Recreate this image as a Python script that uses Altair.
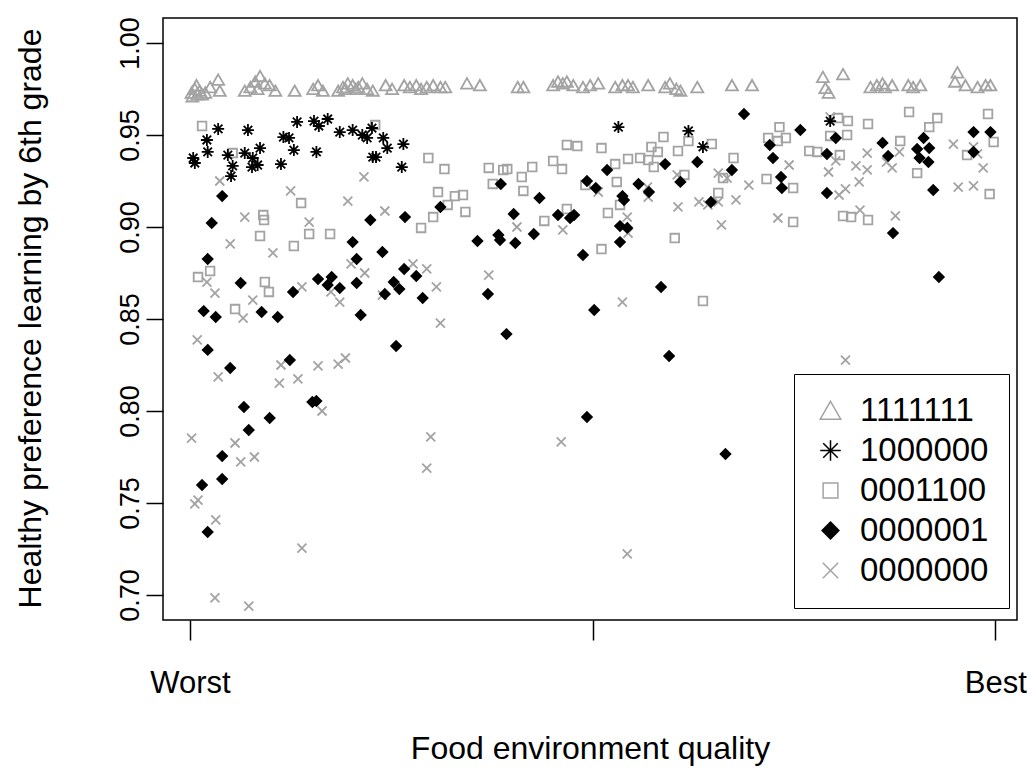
import altair as alt
import pandas as pd

# series labels (legend order)
patterns = ["1111111", "1000000", "0001100", "0000001", "0000000"]

# (food environment quality 0=Worst..100=Best, healthy preference learning)
tri_pts = [
    (0.2, 0.973), (0.3, 0.971), (0.6, 0.975), (0.8, 0.977), (0.9, 0.972), (1.2, 0.974), (1.5, 0.972),
    (1.9, 0.973), (2.5, 0.976), (3.5, 0.980), (3.7, 0.974), (6.8, 0.974), (7.5, 0.976), (8.1, 0.979),
    (8.4, 0.975), (8.7, 0.982), (9.3, 0.978), (9.9, 0.977), (10.6, 0.974), (13.0, 0.974), (15.3, 0.975),
    (15.9, 0.977), (16.5, 0.974), (18.4, 0.974), (19.0, 0.976), (19.3, 0.975), (19.6, 0.978), (20.2, 0.977),
    (20.6, 0.975), (20.9, 0.976), (21.4, 0.978), (22.0, 0.975), (22.7, 0.974), (24.3, 0.977), (25.1, 0.975),
    (26.6, 0.977), (27.3, 0.976), (28.1, 0.977), (28.7, 0.975), (29.4, 0.976), (30.2, 0.977), (31.1, 0.976),
    (31.7, 0.976), (34.4, 0.978), (36.0, 0.977), (40.7, 0.976), (41.4, 0.976), (45.1, 0.977), (45.7, 0.979),
    (46.3, 0.978), (46.8, 0.979), (47.6, 0.977), (48.8, 0.976), (49.7, 0.977), (50.7, 0.978), (52.8, 0.976),
    (53.7, 0.977), (54.4, 0.977), (55.0, 0.976), (56.9, 0.977), (59.0, 0.976), (59.6, 0.978), (60.4, 0.975),
    (60.9, 0.974), (63.0, 0.976), (67.3, 0.977), (69.8, 0.977), (78.6, 0.9815), (78.9, 0.9755), (79.3, 0.973),
    (81.1, 0.983), (84.5, 0.976), (85.3, 0.977), (86.0, 0.978), (86.3, 0.976), (87.2, 0.977), (89.2, 0.977),
    (89.8, 0.976), (90.7, 0.977), (95.0, 0.979), (95.3, 0.984), (96.3, 0.977), (97.8, 0.976), (98.8, 0.977),
    (99.4, 0.977),
]

star_pts = [
    (0.4, 0.9375), (0.6, 0.9348), (2.1, 0.9473), (2.2, 0.9408), (3.5, 0.9533), (4.7, 0.9391), (5.3, 0.9332),
    (5.1, 0.9277), (6.8, 0.9402), (7.8, 0.9375), (8.4, 0.9337), (7.7, 0.9326), (7.2, 0.9527), (8.7, 0.9429),
    (11.3, 0.9342), (11.6, 0.9489), (12.3, 0.9484), (12.9, 0.9418), (13.3, 0.9571), (15.4, 0.9576),
    (16.0, 0.9549), (17.1, 0.9587), (15.7, 0.9408), (18.6, 0.9516), (20.2, 0.9527), (21.4, 0.9500),
    (22.0, 0.9484), (22.6, 0.9538), (22.7, 0.9380), (24.0, 0.9484), (24.5, 0.9429), (23.1, 0.9380),
    (26.5, 0.9451), (26.3, 0.9326), (53.2, 0.9543), (61.9, 0.9522), (63.7, 0.9435), (79.5, 0.9576),
]

sq_pts = [
    (1.5, 0.9549), (5.3, 0.9402), (13.8, 0.9130), (9.1, 0.9065), (9.2, 0.9038), (8.7, 0.8951), (14.8, 0.8962),
    (17.4, 0.8962), (12.9, 0.8897), (2.5, 0.8761), (1.0, 0.8728), (9.3, 0.8701), (9.8, 0.8647), (5.6, 0.8554),
    (23.0, 0.9554), (29.6, 0.9375), (31.6, 0.9315), (30.8, 0.9190), (32.9, 0.9168), (33.9, 0.9174),
    (32.0, 0.9120), (34.2, 0.9082), (30.2, 0.9054), (28.7, 0.8995), (37.1, 0.9321), (38.9, 0.9310),
    (39.4, 0.9315), (37.6, 0.9234), (41.2, 0.9272), (41.4, 0.9196), (42.5, 0.9326), (45.1, 0.9359),
    (46.2, 0.9315), (46.8, 0.9446), (48.1, 0.9440), (46.8, 0.9098), (44.0, 0.9033), (51.1, 0.9429),
    (58.8, 0.9489), (61.9, 0.9467), (64.8, 0.9451), (57.3, 0.9435), (58.1, 0.9408), (60.6, 0.9413),
    (52.8, 0.9342), (54.4, 0.9370), (55.9, 0.9375), (56.9, 0.9364), (57.6, 0.9326), (67.5, 0.9375),
    (71.8, 0.9484), (73.0, 0.9467), (73.2, 0.9543), (61.4, 0.9283), (53.0, 0.9245), (65.6, 0.9185),
    (49.1, 0.9228), (53.4, 0.9120), (51.9, 0.9076), (71.6, 0.9261), (60.2, 0.8940), (51.1, 0.8880),
    (63.7, 0.8598), (66.2, 0.9266), (89.3, 0.9625), (92.8, 0.9592), (99.1, 0.9614), (91.8, 0.9543),
    (80.5, 0.9592), (81.7, 0.9576), (84.2, 0.9560), (81.6, 0.9500), (79.5, 0.9495), (74.0, 0.9484),
    (88.2, 0.9467), (76.9, 0.9413), (77.9, 0.9408), (80.7, 0.9391), (96.5, 0.9391), (99.8, 0.9462),
    (90.3, 0.9293), (74.9, 0.9212), (99.3, 0.9179), (74.9, 0.9027), (81.1, 0.9060), (82.1, 0.9054),
    (84.2, 0.9038),
]

dia_pts = [
    (4.0, 0.9168), (2.7, 0.9022), (22.4, 0.9038), (20.2, 0.8918), (2.2, 0.8826), (20.7, 0.8826), (6.3, 0.8696),
    (12.8, 0.8647), (15.9, 0.8717), (17.6, 0.8728), (17.1, 0.8685), (18.6, 0.8668), (20.7, 0.8696),
    (1.7, 0.8543), (3.2, 0.8511), (8.9, 0.8538), (10.9, 0.8511), (21.2, 0.8522), (2.2, 0.8332), (12.4, 0.8277),
    (5.0, 0.8234), (6.7, 0.8022), (9.9, 0.7962), (7.3, 0.7897), (15.2, 0.8049), (15.7, 0.8054), (4.0, 0.7755),
    (4.0, 0.7630), (1.5, 0.7598), (2.2, 0.7342), (38.6, 0.9234), (43.4, 0.9158), (31.1, 0.9109), (40.2, 0.9071),
    (45.7, 0.9065), (47.2, 0.9049), (47.7, 0.9065), (26.7, 0.9054), (35.7, 0.8924), (38.3, 0.8957),
    (38.5, 0.8929), (40.4, 0.8913), (42.7, 0.8962), (23.9, 0.8864), (26.6, 0.8772), (28.1, 0.8734),
    (25.3, 0.8701), (26.0, 0.8663), (24.2, 0.8636), (28.9, 0.8614), (37.0, 0.8636), (39.3, 0.8418),
    (25.6, 0.8353), (48.8, 0.8848), (49.3, 0.9250), (50.4, 0.9212), (51.8, 0.9310), (55.7, 0.9234),
    (57.0, 0.9190), (53.7, 0.9168), (53.9, 0.9147), (59.0, 0.9342), (60.9, 0.9245), (63.0, 0.9353),
    (67.3, 0.9310), (64.7, 0.9136), (53.4, 0.9005), (54.3, 0.8995), (53.4, 0.8918), (58.5, 0.8674),
    (50.2, 0.8549), (59.5, 0.8299), (68.8, 0.9614), (72.0, 0.9446), (72.4, 0.9375), (73.4, 0.9272),
    (73.5, 0.9212), (75.8, 0.9527), (80.2, 0.9484), (79.1, 0.9397), (86.0, 0.9457), (86.7, 0.9386),
    (91.1, 0.9484), (91.8, 0.9429), (90.3, 0.9424), (90.6, 0.9375), (91.7, 0.9353), (97.3, 0.9516),
    (99.4, 0.9516), (97.3, 0.9408), (79.1, 0.9185), (92.3, 0.9201), (87.3, 0.8967), (93.0, 0.8728),
    (49.3, 0.7967), (66.5, 0.7766),
]

cross_pts = [
    (3.7, 0.9250), (12.5, 0.9196), (19.6, 0.9141), (21.6, 0.9272), (6.8, 0.9054), (14.8, 0.9027), (5.0, 0.8908),
    (10.3, 0.8859), (20.0, 0.8799), (21.7, 0.8750), (2.1, 0.8701), (3.1, 0.8641), (13.9, 0.8674), (17.5, 0.8647),
    (18.6, 0.8592), (7.8, 0.8603), (6.6, 0.8505), (0.9, 0.8386), (18.4, 0.8255), (19.3, 0.8288), (3.5, 0.8185),
    (11.3, 0.8250), (11.1, 0.8152), (13.4, 0.8174), (15.9, 0.8245), (16.4, 0.8000), (0.2, 0.7853),
    (5.6, 0.7826), (6.3, 0.7723), (8.0, 0.7750), (0.6, 0.7495), (1.0, 0.7516), (3.2, 0.7408), (13.9, 0.7255),
    (3.1, 0.6984), (7.3, 0.6940), (24.2, 0.9087), (40.6, 0.9000), (46.3, 0.8984), (27.7, 0.8799),
    (29.4, 0.8772), (30.6, 0.8674), (37.1, 0.8739), (23.9, 0.8630), (31.1, 0.8478), (29.9, 0.7859),
    (29.4, 0.7690), (46.1, 0.7832), (60.6, 0.9109), (63.2, 0.9136), (65.6, 0.9293), (66.7, 0.9266),
    (64.3, 0.9120), (65.6, 0.9136), (67.8, 0.9147), (69.4, 0.9228), (66.0, 0.9011), (73.0, 0.9049),
    (54.3, 0.9054), (54.4, 0.8967), (53.7, 0.8592), (56.8, 0.9217), (56.9, 0.9163), (60.5, 0.9283),
    (50.7, 0.9190), (79.5, 0.9598), (84.1, 0.9402), (80.2, 0.9359), (74.4, 0.9337), (79.3, 0.9299),
    (82.7, 0.9332), (84.1, 0.9310), (87.2, 0.9321), (88.1, 0.9408), (86.5, 0.9353), (83.1, 0.9245),
    (81.4, 0.9207), (80.6, 0.9174), (83.2, 0.9092), (87.6, 0.9060), (94.8, 0.9451), (97.3, 0.9435),
    (97.8, 0.9397), (98.5, 0.9321), (95.4, 0.9217), (97.3, 0.9223), (81.4, 0.8277), (54.3, 0.7223),
]

x_ticks = [0, 50, 100]
y_ticks = [0.70, 0.75, 0.80, 0.85, 0.90, 0.95, 1.00]

# marker shapes (R pch 2, 8, 0, 18, 4) and colours
TRI = "M0,-0.9L1,0.85L-1,0.85Z"
STAR = "M-1,0L1,0M0,-1L0,1M-0.71,-0.71L0.71,0.71M-0.71,0.71L0.71,-0.71"
SQ = "M-0.72,-0.72L0.72,-0.72L0.72,0.72L-0.72,0.72Z"
DIA = "M0,-0.82L0.82,0L0,0.82L-0.82,0Z"
CROSS = "M-0.75,-0.75L0.75,0.75M-0.75,0.75L0.75,-0.75"
GRAY = "#a3a3a3"
shape_range = [TRI, STAR, SQ, DIA, CROSS]
stroke_range = [GRAY, "black", GRAY, "black", GRAY]
fill_range = ["transparent", "transparent", "transparent", "black", "transparent"]

frames = []
for name, pts in [("0000000", cross_pts), ("0001100", sq_pts), ("1111111", tri_pts),
                  ("0000001", dia_pts), ("1000000", star_pts)]:
    frames.append(pd.DataFrame({"quality": [p[0] for p in pts],
                                "learning": [p[1] for p in pts],
                                "pattern": name}))
df = pd.concat(frames, ignore_index=True)

FONT = "Liberation Sans"


def make_legend():
    return alt.Legend(
        title=None, orient="none", legendX=631, legendY=356,
        strokeColor="black", fillColor="white", padding=20,
        labelFont=FONT, labelFontSize=33, labelColor="black", labelOffset=13,
        symbolSize=420, symbolStrokeWidth=1.5, rowPadding=6,
    )


chart = alt.Chart(df).mark_point(size=144, strokeWidth=1.8, opacity=1).encode(
    x=alt.X("quality:Q",
            scale=alt.Scale(domain=[-3.35, 102.7], nice=False, zero=False),
            axis=alt.Axis(values=x_ticks, title="Food environment quality",
                          labelExpr="datum.value == 0 ? 'Worst' : (datum.value == 100 ? 'Best' : '')",
                          labelFont=FONT, labelFontSize=31, labelColor="black",
                          labelBaseline="alphabetic", labelPadding=52, labelFlush=False,
                          tickSize=20, tickColor="black", tickWidth=1.5, domain=False, grid=False,
                          titleFont=FONT, titleFontSize=32, titleFontWeight="normal", titleColor="black",
                          titleBaseline="alphabetic", titleY=138)),
    y=alt.Y("learning:Q",
            scale=alt.Scale(domain=[0.6864, 1.0136], nice=False, zero=False),
            axis=alt.Axis(values=y_ticks, format=".2f", title="Healthy preference learning by 6th grade",
                          labelFont=FONT, labelFontSize=27, labelColor="black",
                          labelAngle=270, labelAlign="center", labelBaseline="alphabetic",
                          labelPadding=8, labelFlush=False, labelOverlap=False,
                          tickSize=17, tickColor="black", tickWidth=1.5, domain=False, grid=False,
                          titleFont=FONT, titleFontSize=32, titleFontWeight="normal", titleColor="black",
                          titleAngle=270, titleBaseline="alphabetic", titleAlign="center",
                          titleX=-123, titleY=300)),
    shape=alt.Shape("pattern:N", scale=alt.Scale(domain=patterns, range=shape_range), legend=make_legend()),
    stroke=alt.Stroke("pattern:N", scale=alt.Scale(domain=patterns, range=stroke_range), legend=make_legend()),
    fill=alt.Fill("pattern:N", scale=alt.Scale(domain=patterns, range=fill_range), legend=make_legend()),
).properties(
    width=854, height=602,
    autosize=alt.AutoSizeParams(type="none"),
    padding={"left": 163, "top": 18, "right": 15, "bottom": 149},
    background="white",
).configure_view(stroke="black", strokeWidth=1.5)

chart.save("out.html", embed_options={"renderer": "svg", "actions": False})
